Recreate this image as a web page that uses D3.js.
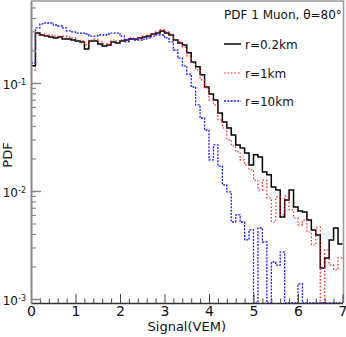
<!DOCTYPE html>
<html>
<head>
<meta charset="utf-8">
<script src="https://cdn.jsdelivr.net/npm/d3@7"></script>
<style>
  body { margin: 0; background: #fff; }
  svg { display: block; font-family: 'DejaVu Sans', sans-serif; }
</style>
</head>
<body>
<script>
// histogram contents, 70 bins of 0.1 VEM from 0 to 7
const binWidth = 0.1
const black = [0.144, 0.290, 0.278, 0.272, 0.267, 0.261, 0.267, 0.255, 0.255, 0.250,
  0.245, 0.240, 0.206, 0.245, 0.245, 0.230, 0.220, 0.225, 0.240, 0.235,
  0.245, 0.250, 0.255, 0.255, 0.261, 0.267, 0.272, 0.284, 0.290, 0.303,
  0.290, 0.278, 0.250, 0.235, 0.225, 0.190, 0.156, 0.141, 0.119, 0.0918,
  0.0791, 0.0697, 0.0528, 0.0435, 0.0383, 0.0330, 0.0267, 0.0250, 0.0225, 0.0174,
  0.0216, 0.0206, 0.0150, 0.0141, 0.0109, 0.0102, 0.00575, 0.00826, 0.0102, 0.00711,
  0.00653, 0.00640, 0.00539, 0.00436, 0.00391, 0.00194, 0.00240, 0.00352, 0.00454, 0.00323]
const red = [0.132, 0.278, 0.284, 0.272, 0.278, 0.272, 0.267, 0.272, 0.267, 0.261,
  0.250, 0.245, 0.225, 0.250, 0.255, 0.240, 0.230, 0.230, 0.250, 0.245,
  0.250, 0.255, 0.261, 0.250, 0.261, 0.272, 0.278, 0.284, 0.297, 0.310,
  0.297, 0.284, 0.250, 0.240, 0.215, 0.178, 0.153, 0.132, 0.107, 0.0899,
  0.0697, 0.0626, 0.0454, 0.0383, 0.0297, 0.0261, 0.0230, 0.0194, 0.0174, 0.0157,
  0.0126, 0.0102, 0.0126, 0.00861, 0.00516, 0.00880, 0.00600, 0.00900, 0.00667, 0.00562,
  0.00485, 0.00539, 0.00417, 0.00316, 0.00464, 0, 0.00284, 0.00206, 0.00186, 0.00240]
const blue = [0.153, 0.323, 0.352, 0.359, 0.359, 0.344, 0.337, 0.323, 0.303, 0.297,
  0.290, 0.290, 0.284, 0.272, 0.272, 0.278, 0.278, 0.284, 0.290, 0.290,
  0.272, 0.240, 0.255, 0.250, 0.250, 0.255, 0.261, 0.272, 0.278, 0.278,
  0.261, 0.240, 0.202, 0.170, 0.144, 0.121, 0.0918, 0.0626, 0.0474, 0.0367,
  0.0194, 0.0267, 0.0170, 0.0114, 0.0098, 0.00516, 0.0060, 0.00516, 0.00352, 0.00436,
  0, 0.00454, 0.00337, 0, 0.00220, 0.00206, 0.00272, 0, 0, 0,
  0.00138, 0, 0, 0, 0, 0, 0, 0, 0, 0]

const seriesNames = ['r=0.2km', 'r=1km', 'r=10km']
const legendTitle = 'PDF 1 Muon, θ=80°'
const xMajorTicks = [0, 1, 2, 3, 4, 5, 6, 7]
const yMajorTicks = [1e-3, 1e-2, 1e-1]
const yExponents = ['-3', '-2', '-1']

const width = 346
const height = 337
const frame = {left: 31, right: 342.5, top: 1, bottom: 303}

const xScale = d3.scaleLinear().domain([0, 7]).range([frame.left, frame.right])
const yScale = d3.scaleLog().domain([0.000918, 0.574]).range([frame.bottom, frame.top])

const svg = d3.select('body').append('svg')
  .attr('width', width)
  .attr('height', height)

svg.append('defs').append('clipPath').attr('id', 'frameClip')
  .append('rect')
  .attr('x', frame.left).attr('y', frame.top)
  .attr('width', frame.right + 1 - frame.left).attr('height', frame.bottom - frame.top)

// histograms
const series = [
  {values: black, color: '#000', width: 1.5, dash: null},
  {values: red, color: '#ff1a1a', width: 1.2, dash: '1.5,2'},
  {values: blue, color: '#1a1aff', width: 1.3, dash: '2,1.3'}
]

const step = d3.line()
  .x(d => xScale(d.x))
  .y(d => yScale(Math.max(d.y, yScale.domain()[0])))
  .curve(d3.curveStepAfter)

const plot = svg.append('g').attr('clip-path', 'url(#frameClip)')
series.forEach(s => {
  const pts = s.values.map((v, i) => ({x: i * binWidth, y: v}))
  pts.push({x: s.values.length * binWidth, y: s.values[s.values.length - 1]})
  plot.append('path')
    .datum(pts)
    .attr('fill', 'none')
    .attr('stroke', s.color)
    .attr('stroke-width', s.width)
    .attr('stroke-dasharray', s.dash)
    .attr('d', step)
})

// frame top and right
svg.append('path')
  .attr('d', `M${frame.left},${frame.top}H${frame.right + 1}V${frame.bottom}`)
  .attr('fill', 'none')
  .attr('stroke', '#999')
  .attr('stroke-width', 1.5)

// x axis
const xMinor = d3.range(0, 7.01, 0.2).filter(v => Math.abs(v - Math.round(v)) > 0.01)
svg.append('g')
  .attr('transform', `translate(0,${frame.bottom})`)
  .call(d3.axisBottom(xScale).tickValues(xMinor).tickSize(-4.5).tickFormat(''))
  .call(g => g.select('.domain').remove())
  .call(g => g.selectAll('line').attr('stroke', '#444'))

svg.append('g')
  .attr('transform', `translate(0,${frame.bottom})`)
  .call(d3.axisBottom(xScale).tickValues(xMajorTicks).tickSizeInner(-9).tickSizeOuter(0).tickPadding(3).tickFormat(d3.format('d')))
  .call(g => g.select('.domain').attr('stroke', '#333').attr('stroke-width', 1.5))
  .call(g => g.selectAll('line').attr('stroke', '#444'))
  .call(g => g.selectAll('text').attr('font-size', 14).attr('fill', '#111').attr('font-family', 'DejaVu Sans'))

// y axis
const yMinor = []
yMajorTicks.forEach(p => d3.range(2, 10).forEach(m => { if (p * m < 0.574) yMinor.push(p * m) }))
svg.append('g')
  .attr('transform', `translate(${frame.left},0)`)
  .call(d3.axisLeft(yScale).tickValues(yMinor).tickSize(-5).tickFormat(''))
  .call(g => g.select('.domain').remove())
  .call(g => g.selectAll('line').attr('stroke', '#888').attr('stroke-width', 1.2))

const yAxis = svg.append('g')
  .attr('transform', `translate(${frame.left},0)`)
  .call(d3.axisLeft(yScale).tickValues(yMajorTicks).tickSizeInner(-10).tickSizeOuter(0).tickPadding(5).tickFormat(() => '10'))
yAxis.select('.domain').attr('stroke', '#888').attr('stroke-width', 2)
yAxis.selectAll('line').attr('stroke', '#888').attr('stroke-width', 1.5)
yAxis.selectAll('text')
  .attr('font-size', 12).attr('fill', '#111').attr('font-family', 'DejaVu Sans')
  .attr('dy', '0.5em')
  .each(function (d, i) {
    d3.select(this).append('tspan')
      .attr('dy', '-0.6em')
      .attr('font-size', 8)
      .text(yExponents[i])
  })

// axis titles
svg.append('text')
  .attr('x', (frame.left + frame.right) / 2)
  .attr('y', 331)
  .attr('text-anchor', 'middle')
  .attr('font-size', 13)
  .attr('fill', '#111')
  .text('Signal(VEM)')

svg.append('text')
  .attr('transform', 'translate(12,155) rotate(-90)')
  .attr('text-anchor', 'middle')
  .attr('font-size', 13)
  .attr('fill', '#111')
  .text('PDF')

// legend
const legend = svg.append('g').attr('font-size', 12).attr('fill', '#111')
legend.append('text').attr('x', 224).attr('y', 19).text(legendTitle)
const legendY = [44, 73, 101]
seriesNames.forEach((name, i) => {
  legend.append('line')
    .attr('x1', 224).attr('x2', 241)
    .attr('y1', legendY[i]).attr('y2', legendY[i])
    .attr('stroke', series[i].color)
    .attr('stroke-width', series[i].width)
    .attr('stroke-dasharray', series[i].dash)
  legend.append('text')
    .attr('x', 245).attr('y', legendY[i] + 4.5)
    .text(name)
})
</script>
</body>
</html>
